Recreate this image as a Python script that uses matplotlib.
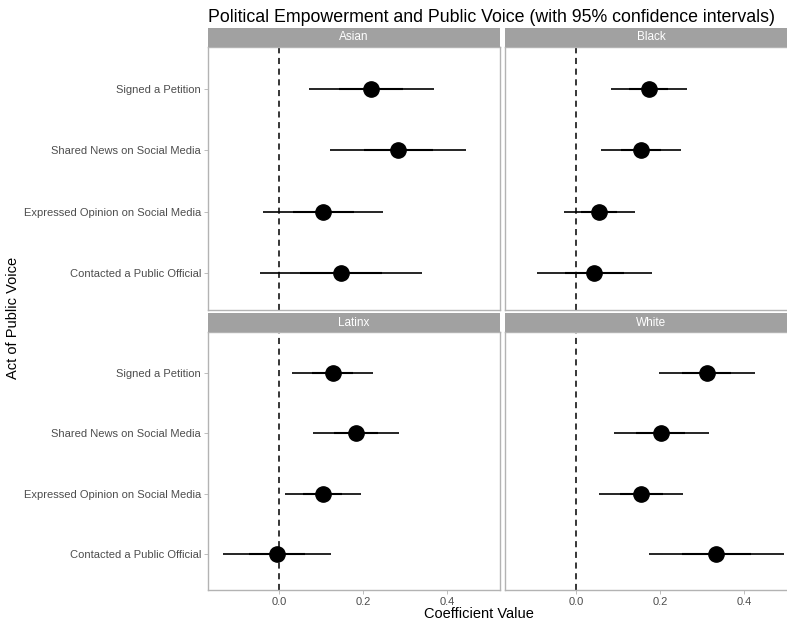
import matplotlib.pyplot as plt

plt.rcParams['font.family'] = ['Liberation Sans', 'DejaVu Sans']

# acts of public voice (bottom to top on the y axis)
acts = ["Contacted a Public Official", "Expressed Opinion on Social Media",
        "Shared News on Social Media", "Signed a Petition"]
groups = ["Asian", "Black", "Latinx", "White"]

# coefficient estimates and 95% CI bounds, same order as acts
asian_est = [0.147, 0.105, 0.283, 0.219]
asian_lo = [-0.045, -0.038, 0.121, 0.070]
asian_hi = [0.340, 0.247, 0.444, 0.367]

black_est = [0.043, 0.055, 0.154, 0.173]
black_lo = [-0.093, -0.028, 0.059, 0.083]
black_hi = [0.181, 0.140, 0.249, 0.264]

latinx_est = [-0.005, 0.104, 0.182, 0.127]
latinx_lo = [-0.134, 0.013, 0.081, 0.031]
latinx_hi = [0.124, 0.195, 0.286, 0.222]

white_est = [0.333, 0.155, 0.201, 0.310]
white_lo = [0.173, 0.055, 0.089, 0.198]
white_hi = [0.494, 0.255, 0.315, 0.424]

data = {
    "Asian": (asian_est, asian_lo, asian_hi),
    "Black": (black_est, black_lo, black_hi),
    "Latinx": (latinx_est, latinx_lo, latinx_hi),
    "White": (white_est, white_lo, white_hi),
}

W, H = 787, 622
fig = plt.figure(figsize=(W / 100, H / 100), dpi=100)

# panel boxes in pixels: (left, top, right, bottom)
boxes = {
    "Asian": (208, 47, 500, 310),
    "Black": (505, 47, 797, 310),
    "Latinx": (208, 332, 500, 590),
    "White": (505, 332, 797, 590),
}
strip_h = 19
border = '#b3b3b3'

for g in groups:
    l, t, r, b = boxes[g]
    ax = fig.add_axes([l / W, 1 - b / H, (r - l) / W, (b - t) / H])
    est, lo, hi = data[g]
    y = list(range(1, len(acts) + 1))

    ax.axvline(0, color='black', ls=(0, (4, 3)), lw=1.1, zorder=1)
    for yi, e, a, c in zip(y, est, lo, hi):
        se = (c - a) / 2 / 1.96
        ax.plot([a, c], [yi, yi], color='black', lw=1.2, solid_capstyle='butt', zorder=2)
        ax.plot([e - se, e + se], [yi, yi], color='black', lw=1.5, solid_capstyle='butt', zorder=2)
    ax.plot(est, y, 'o', color='black', ms=11, zorder=3)

    ax.set_xlim(-0.169, 0.525)
    ax.set_ylim(0.4, 4.68)
    ax.set_xticks([0.0, 0.2, 0.4])
    ax.set_yticks(y)
    for s in ax.spines.values():
        s.set_color(border)
        s.set_linewidth(1.0)
    ax.tick_params(axis='both', colors=border, labelcolor='#4d4d4d',
                   labelsize=8, length=3, width=0.6, pad=2)
    if g in ("Asian", "Latinx"):
        ax.set_yticklabels(acts)
    else:
        ax.set_yticklabels([])
        ax.tick_params(axis='y', length=0)
    if g in ("Asian", "Black"):
        ax.set_xticklabels([])
        ax.tick_params(axis='x', length=0)

    sax = fig.add_axes([l / W, 1 - t / H, (r - l) / W, strip_h / H])
    sax.set_facecolor('#a1a1a1')
    for s in sax.spines.values():
        s.set_visible(False)
    sax.set_xticks([])
    sax.set_yticks([])
    sax.text(0.5, 0.5, g, color='white', fontsize=8.5, ha='center', va='center',
             transform=sax.transAxes)

fig.text(208 / W, 1 - 18 / H, "Political Empowerment and Public Voice (with 95% confidence intervals)",
         fontsize=12.8, ha='left', va='center', color='black')
fig.text(479 / W, 1 - 614 / H, "Coefficient Value", fontsize=10.5, ha='center', va='center')
fig.text(13 / W, 1 - 318 / H, "Act of Public Voice", fontsize=10.5, rotation=90,
         ha='center', va='center')

fig.savefig('out.png', dpi=100)
